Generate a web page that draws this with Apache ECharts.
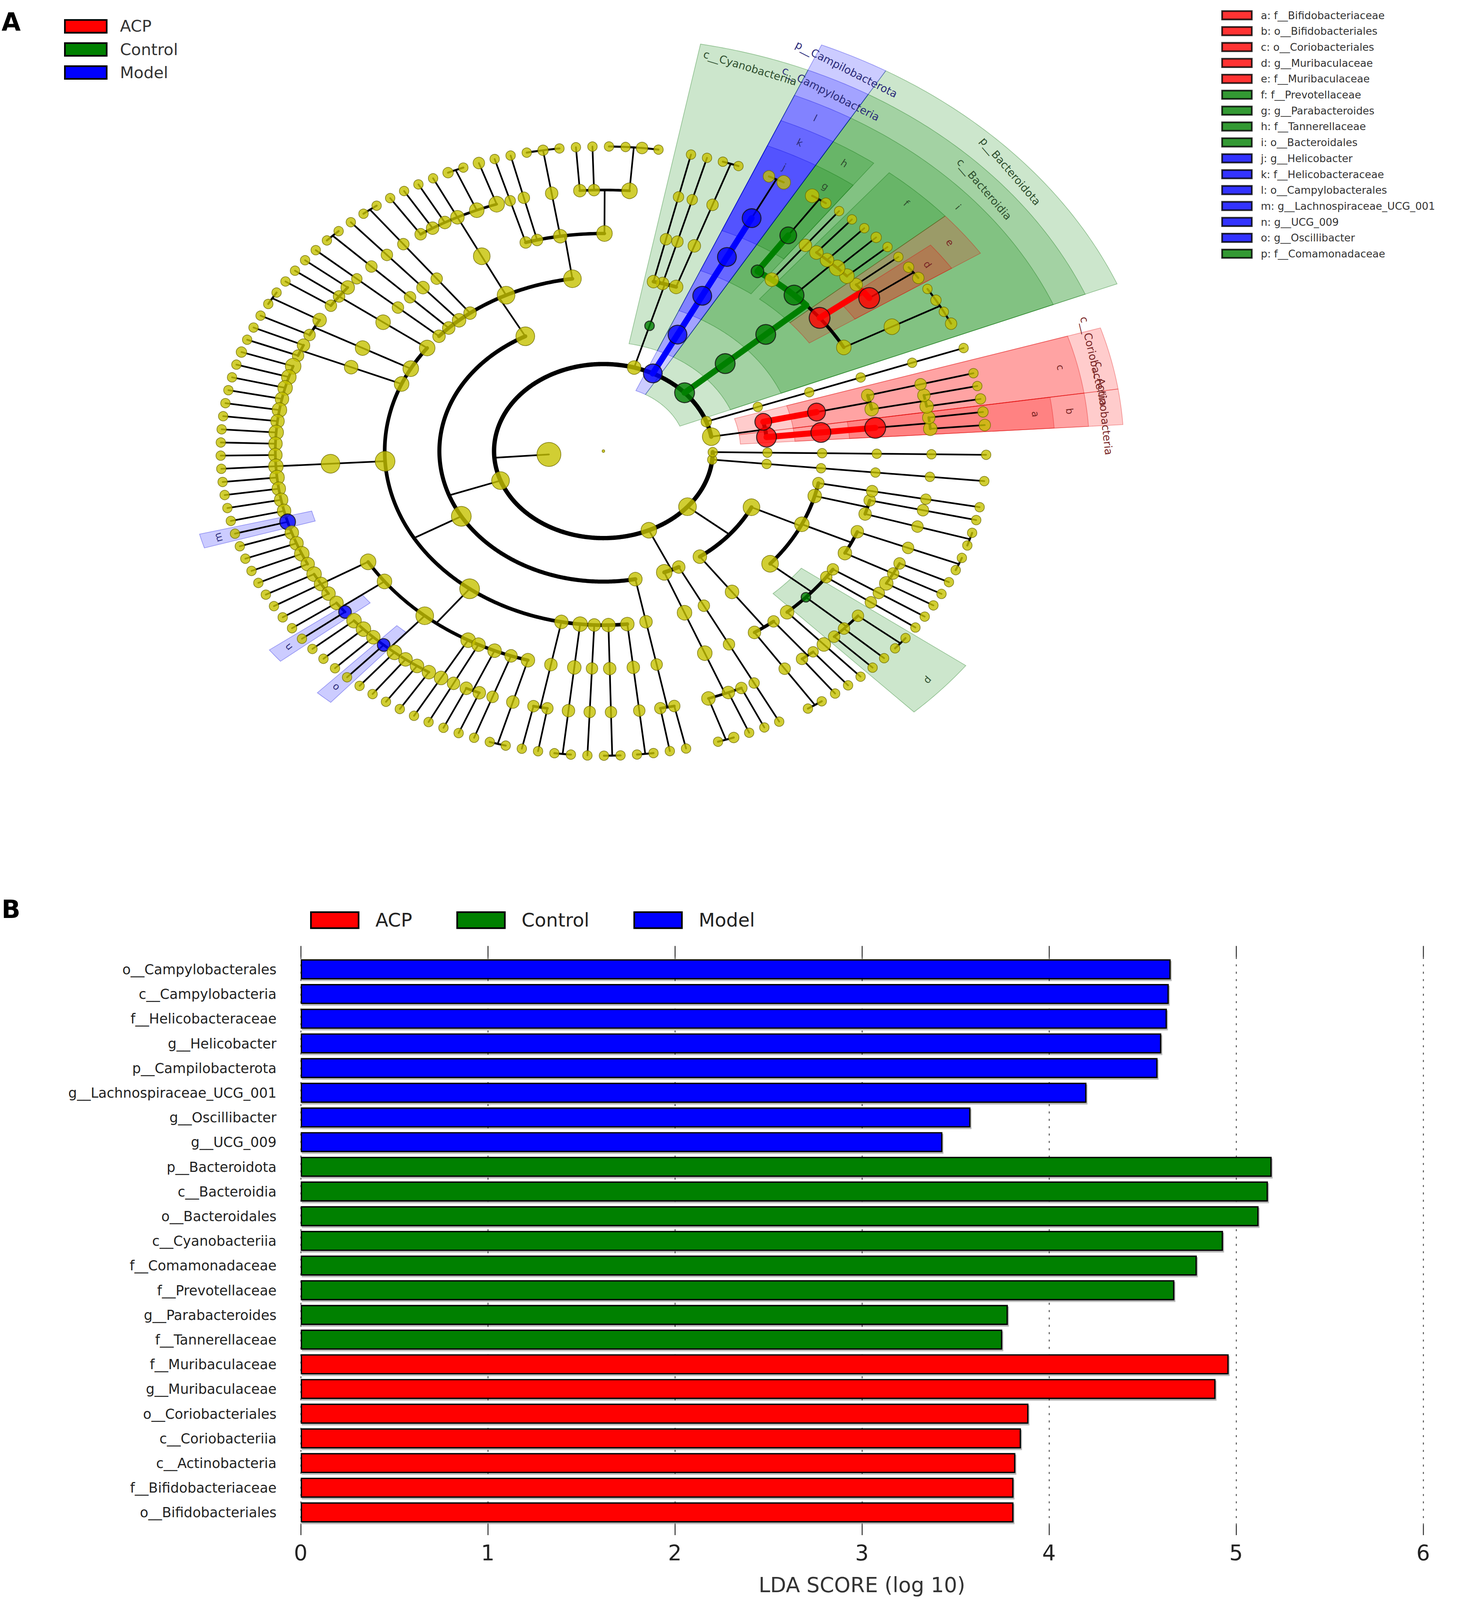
<!DOCTYPE html>
<html>
<head>
<meta charset="utf-8">
<script src="https://cdn.jsdelivr.net/npm/echarts@6/dist/echarts.min.js"></script>
<style>
html, body { margin: 0; padding: 0; background: #fff; overflow: hidden; }
#chart { width: 3792px; height: 4785px; }
</style>
</head>
<body>
<div id="chart"></div>
<script>
// ---- panel B: LDA scores, top to bottom ----
const barNames = [
  'o__Campylobacterales', 'c__Campylobacteria', 'f__Helicobacteraceae', 'g__Helicobacter',
  'p__Campilobacterota', 'g__Lachnospiraceae_UCG_001', 'g__Oscillibacter', 'g__UCG_009',
  'p__Bacteroidota', 'c__Bacteroidia', 'o__Bacteroidales', 'c__Cyanobacteriia',
  'f__Comamonadaceae', 'f__Prevotellaceae', 'g__Parabacteroides', 'f__Tannerellaceae',
  'f__Muribaculaceae', 'g__Muribaculaceae', 'o__Coriobacteriales', 'c__Coriobacteriia',
  'c__Actinobacteria', 'f__Bifidobacteriaceae', 'o__Bifidobacteriales'
];
const barScores = [
  4.65, 4.64, 4.63, 4.60, 4.58, 4.20, 3.58, 3.43,
  5.19, 5.17, 5.12, 4.93, 4.79, 4.67, 3.78, 3.75,
  4.96, 4.89, 3.89, 3.85, 3.82, 3.81, 3.81
];
const barGroups = [
  'Model', 'Model', 'Model', 'Model', 'Model', 'Model', 'Model', 'Model',
  'Control', 'Control', 'Control', 'Control', 'Control', 'Control', 'Control', 'Control',
  'ACP', 'ACP', 'ACP', 'ACP', 'ACP', 'ACP', 'ACP'
];
const groupNames = ['ACP', 'Control', 'Model'];

// ---- panel A: lettered clades ----
const cladeLetters = ['a', 'b', 'c', 'd', 'e', 'f', 'g', 'h', 'i', 'j', 'k', 'l', 'm', 'n', 'o', 'p'];
const cladeNames = [
  'f__Bifidobacteriaceae', 'o__Bifidobacteriales', 'o__Coriobacteriales', 'g__Muribaculaceae',
  'f__Muribaculaceae', 'f__Prevotellaceae', 'g__Parabacteroides', 'f__Tannerellaceae',
  'o__Bacteroidales', 'g__Helicobacter', 'f__Helicobacteraceae', 'o__Campylobacterales',
  'g__Lachnospiraceae_UCG_001', 'g__UCG_009', 'g__Oscillibacter', 'f__Comamonadaceae'
];

// taxonomy: [name, abundance, children]; a genus lists its species abundances
const tree = ['k__Bacteria', 9, [
  ['p__Actinobacteriota', 6, [
    ['c__Actinobacteria', 7, [['o__Bifidobacteriales', 7, [['f__Bifidobacteriaceae', 7.5, [
      ['g__Bifidobacterium', 4, [3]], ['g__Pseudoscardovia', 3.5, [2.5]]]]]]]],
    ['c__Coriobacteriia', 5.5, [['o__Coriobacteriales', 6, [
      ['f__Eggerthellaceae', 4, [['g__Enterorhabdus', 4, [2.5]], ['g__Adlercreutzia', 3.5, [2]]]],
      ['f__Atopobiaceae', 3.5, [['g__Coriobacteriaceae_UCG_002', 3, [2]]]]]]]]]],
  ['p__Patescibacteria', 2.5, [['c__Saccharimonadia', 2, [['o__Saccharimonadales', 2, [
    ['f__Saccharimonadaceae', 2, [['g__Candidatus_Saccharimonas', 2, [2]]]]]]]]]],
  ['p__Bacteroidota', 7, [['c__Bacteroidia', 7, [['o__Bacteroidales', 7, [
    ['f__Bacteroidaceae', 4.5, [['g__Bacteroides', 5, [3, 2, 2.5, 2]]]],
    ['f__Muribaculaceae', 7.5, [['g__Muribaculaceae', 7.5, [3, 2.5]], ['g__Muribaculum', 3.5, [2]]]],
    ['f__Prevotellaceae', 7, [['g__Prevotellaceae_UCG_001', 4.5, [2]], ['g__Alloprevotella', 5, [2.5]],
      ['g__Prevotella', 4, [2]], ['g__Prevotellaceae_NK3B31_group', 4, [2]]]],
    ['f__Rikenellaceae', 4, [['g__Alistipes', 3.5, [2]]]],
    ['f__Tannerellaceae', 3.5, [['g__Parabacteroides', 5.5, [2.5, 4]]]]]]]]]],
  ['p__Campilobacterota', 6.5, [['c__Campylobacteria', 6.5, [['o__Campylobacterales', 6.5, [
    ['f__Helicobacteraceae', 6.5, [['g__Helicobacter', 6.5, [4, 3]]]]]]]]]],
  ['p__Cyanobacteria', 4, [['c__Cyanobacteriia', 2, [
    ['o__Gastranaerophilales', 4, [['f__Gastranaerophilales', 3.5, [['g__Gastranaerophilales', 3, [2, 2]]]]]],
    ['o__Obscuribacterales', 3.5, [['f__Obscuribacteraceae', 3, [['g__Obscuribacteraceae', 2.5, [2]]]]]],
    ['o__Chloroplast', 3.5, [['f__Chloroplast', 3, [['g__Chloroplast', 2.5, [2]]]]]]]]]],
  ['p__Firmicutes', 6, [
    ['c__Bacilli', 6.5, [
      ['o__Lactobacillales', 6, [
        ['f__Lactobacillaceae', 5, [['g__Lactobacillus', 5, [2, 3, 2, 2]], ['g__Ligilactobacillus', 3, [2]],
          ['g__Limosilactobacillus', 3.5, [2]]]],
        ['f__Streptococcaceae', 4, [['g__Streptococcus', 3.5, [2, 2.5, 2]]]],
        ['f__Enterococcaceae', 3, [['g__Enterococcus', 3, [2]]]],
        ['f__Aerococcaceae', 3, [['g__Aerococcus', 2.5, [2]]]]]],
      ['o__Erysipelotrichales', 6, [['f__Erysipelotrichaceae', 5.5, [
        ['g__Dubosiella', 5, [3]], ['g__Faecalibaculum', 4.5, [2, 2.5]], ['g__Turicibacter', 4, [2]],
        ['g__Allobaculum', 3.5, [2]], ['g__Erysipelatoclostridium', 3.5, [2]], ['g__Holdemania', 3, [2]]]]]],
      ['o__Staphylococcales', 3.5, [['f__Staphylococcaceae', 3, [['g__Staphylococcus', 3, [2, 2]]]]]],
      ['o__RF39', 4, [['f__RF39', 3.5, [['g__RF39', 3, [2]]]]]],
      ['o__Bacillales', 3.5, [['f__Bacillaceae', 3, [['g__Bacillus', 3, [2, 2]]]]]],
      ['o__Acholeplasmatales', 3.5, [['f__Acholeplasmataceae', 3, [['g__Anaeroplasma', 2.5, [2]]]]]]]],
    ['c__Clostridia', 7, [
      ['o__Peptostreptococcales-Tissierellales', 5, [['f__Peptostreptococcaceae', 4.5, [
        ['g__Romboutsia', 4, [2]], ['g__Intestinibacter', 3, [2]], ['g__Terrisporobacter', 3, [2]]]]]],
      ['o__Clostridiales', 5, [['f__Clostridiaceae', 4.5, [
        ['g__Clostridium_sensu_stricto_1', 4, [2, 2]], ['g__Candidatus_Arthromitus', 3, [2]]]]]],
      ['o__Christensenellales', 4.5, [['f__Christensenellaceae', 4, [
        ['g__Christensenellaceae_R-7_group', 3.5, [2]], ['g__Christensenella', 3, [2]]]]]],
      ['o__Lachnospirales', 7, [['f__Lachnospiraceae', 6.5, [
        ['g__Lachnospiraceae_NK4A136_group', 5, [2.5]], ['g__Roseburia', 4.5, [2]], ['g__Blautia', 4.5, [2]],
        ['g__Dorea', 4, [2]], ['g__Lachnoclostridium', 4.5, [2]], ['g__Tyzzerella', 4, [2]],
        ['g__Acetatifactor', 4.5, [2]], ['g__Marvinbryantia', 4, [2]], ['g__Coprococcus', 4, [2]],
        ['g__Eubacterium_xylanophilum_group', 4.5, [2]], ['g__Lachnospiraceae_UCG_006', 4.5, [2]],
        ['g__Anaerostipes', 4, [2]], ['g__Fusicatenibacter', 4, [2]], ['g__Lachnospira', 4, [2]],
        ['g__Lachnospiraceae_UCG_001', 5, [2]], ['g__GCA-900066575', 4, [2]],
        ['g__Lachnospiraceae_FCS020_group', 4, [2]], ['g__ASF356', 4.5, [2]],
        ['g__Eubacterium_ventriosum_group', 4, [2]]]]]],
      ['o__Oscillospirales', 7, [
        ['f__Ruminococcaceae', 5, [['g__Ruminococcus', 4.5, [2]], ['g__Incertae_Sedis', 4, [2]], ['g__Anaerotruncus', 4, [2]]]],
        ['f__Butyricicoccaceae', 4.5, [['g__Butyricicoccus', 4, [2]], ['g__UCG_009', 3.5, [2]]]],
        ['f__Oscillospiraceae', 6, [['g__NK4A214_group', 4.5, [2]], ['g__Colidextribacter', 4.5, [2]],
          ['g__Intestinimonas', 4, [2]], ['g__Oscillibacter', 3.5, [2]], ['g__UCG_005', 4.5, [2]],
          ['g__Flavonifractor', 4, [2]], ['g__Oscillospira', 4, [2]], ['g__UCG_003', 4, [2]]]],
        ['f__[Eubacterium]_coprostanoligenes_group', 4.5, [['g__[Eubacterium]_coprostanoligenes_group', 4, [2]]]],
        ['f__UCG_010', 4, [['g__UCG_010', 3.5, [2]]]],
        ['f__Acutalibacteraceae', 4, [['g__Acutalibacter', 3.5, [2]], ['g__Ruminococcaceae_UCG_013', 3.5, [2]]]],
        ['f__Anaerofustaceae', 3.5, [['g__Anaerofustis', 3, [2]]]],
        ['f__Hungateiclostridiaceae', 4, [['g__Ruminiclostridium', 3.5, [2, 2]]]]]],
      ['o__Peptococcales', 4, [['f__Peptococcaceae', 3.5, [['g__Peptococcus', 3, [2]], ['g__Peptococcaceae_uncultured', 3, [2]]]]]],
      ['o__Clostridia_UCG-014', 4.5, [['f__Clostridia_UCG-014', 4, [['g__Clostridia_UCG-014', 3.5, [2, 2]]]]]],
      ['o__Monoglobales', 3.5, [['f__Monoglobaceae', 3, [['g__Monoglobus', 3, [2]]]]]],
      ['o__Clostridia_vadinBB60_group', 4, [['f__Clostridia_vadinBB60_group', 3.5, [['g__Clostridia_vadinBB60_group', 3, [2, 2]]]]]],
      ['o__Eubacteriales', 4, [['f__Eubacteriaceae', 3.5, [['g__Eubacterium', 3, [2, 2]]]]]]]],
    ['c__Negativicutes', 4, [['o__Veillonellales-Selenomonadales', 3.5, [['f__Veillonellaceae', 3, [
      ['g__Veillonella', 3, [2]], ['g__Megamonas', 3, [2]]]]]]]]]],
  ['p__Desulfobacterota', 5, [
    ['c__Desulfovibrionia', 5, [['o__Desulfovibrionales', 4.5, [['f__Desulfovibrionaceae', 4.5, [
      ['g__Desulfovibrio', 4, [2, 2.5]], ['g__Bilophila', 3.5, [2]], ['g__Mailhella', 3, [2]]]]]]]],
    ['c__Desulfuromonadia', 3.5, [['o__Geobacterales', 3, [['f__Geobacteraceae', 3, [['g__Geobacter', 2.5, [2]]]]]]]]]],
  ['p__Proteobacteria', 6, [
    ['c__Alphaproteobacteria', 4, [['o__Rhodospirillales', 4, [
      ['f__Rhodospirillales_uncultured', 3.5, [['g__Rhodospirillales_uncultured', 3, [2, 2]]]],
      ['f__Acetobacteraceae', 3, [['g__Acetobacter', 3, [2]], ['g__Gluconobacter', 2.5, [2]]]]]]]],
    ['c__Gammaproteobacteria', 5.5, [
      ['o__Burkholderiales', 5.5, [
        ['f__Sutterellaceae', 4, [['g__Parasutterella', 4, [2]]]],
        ['f__Comamonadaceae', 2, [['g__Comamonas', 3, [2]], ['g__Delftia', 3, [2]], ['g__Acidovorax', 3, [2, 2]]]],
        ['f__Oxalobacteraceae', 3, [['g__Massilia', 3, [2]]]],
        ['f__Burkholderiaceae', 3, [['g__Ralstonia', 3, [2]]]]]],
      ['o__Enterobacterales', 4.5, [
        ['f__Enterobacteriaceae', 4, [['g__Escherichia-Shigella', 4, [2]], ['g__Klebsiella', 3, [2]], ['g__Enterobacter', 3, [2]]]],
        ['f__Pasteurellaceae', 3.5, [['g__Rodentibacter', 3, [2, 2]]]]]],
      ['o__Pseudomonadales', 4, [
        ['f__Moraxellaceae', 3.5, [['g__Acinetobacter', 3, [2, 2]]]],
        ['f__Pseudomonadaceae', 3, [['g__Pseudomonas', 3, [2]]]]]],
      ['o__Xanthomonadales', 3, [['f__Xanthomonadaceae', 3, [['g__Stenotrophomonas', 2.5, [2]]]]]]]]]],
  ['p__Deferribacterota', 2, [['c__Deferribacteres', 2, [['o__Deferribacterales', 2, [
    ['f__Deferribacteraceae', 2, [['g__Mucispirillum', 2, [2]]]]]]]]]],
  ['p__Verrucomicrobiota', 2, [['c__Verrucomicrobiae', 2, [['o__Verrucomicrobiales', 2, [
    ['f__Akkermansiaceae', 2, [['g__Akkermansia', 2, [2]]]]]]]]]]
]];

// ---- page scale: layout is written for a 3792 x 4785 page ----
const VW = window.innerWidth || 3792, VH = window.innerHeight || 4785;
const SX = VW / 3792, SY = VH / 4785, SF = Math.min(SX, SY);
const px = v => v * SX, py = v => v * SY, pf = v => v * SF;
const el = document.getElementById('chart');
el.style.width = VW + 'px';
el.style.height = VH + 'px';

// ---- layout constants ----
const FONT = '"DejaVu Sans", "Liberation Sans", sans-serif';
const CX = 1545, CY = 1349, RX = 980, RY = 911;
const START_DEG = 4.9, END_DEG = 359.3;
const GROUP_COLOR = { ACP: '#ff0000', Control: '#008000', Model: '#0000ff' };
const GROUP_CODE = { ACP: 1, Control: 2, Model: 3 };
const LINE_COLOR = ['#000000', '#ff0000', '#008000', '#0000ff'];
const FILL_COLOR = ['', 'rgba(255,0,0,0.2)', 'rgba(0,128,0,0.2)', 'rgba(0,0,255,0.2)'];
const EDGE_COLOR = ['', 'rgba(220,0,0,0.35)', 'rgba(0,110,0,0.35)', 'rgba(0,0,220,0.35)'];
const TEXT_COLOR = ['#333', '#7a2626', '#2f4f2f', '#2b2b7a'];
const NODE_FILL = ['#c6c200', '#ff0000', '#008000', '#0000ff'];
const ARC_WIDTH = { 2: 13, 3: 12, 4: 11, 5: 10, 6: 8, 7: 6 };

const groupOf = {};
barNames.forEach((n, i) => { groupOf[n] = barGroups[i]; });
const letterOf = {};
cladeNames.forEach((n, i) => { letterOf[n] = cladeLetters[i]; });

// ---- tree layout (leaf slots, one empty slot between phyla) ----
function build(item, level) {
  if (typeof item === 'number') return { name: '', level: level, ab: item, children: [] };
  return { name: item[0], level: level, ab: item[1], children: (item[2] || []).map(c => build(c, level + 1)) };
}
const root = { name: 'root', level: 0, ab: 0, children: [build(tree, 1)] };

let slot = 0;
const leafSlots = [];
function assignSlots(n) {
  if (n.level === 2 && slot > 0) slot++;
  if (!n.children.length) { n.first = n.last = slot; leafSlots.push(slot); slot++; return; }
  n.children.forEach(assignSlots);
  n.first = n.children[0].first;
  n.last = n.children[n.children.length - 1].last;
}
assignSlots(root);
const STEP = (END_DEG - START_DEG) / (slot - 1);
const slotDeg = s => START_DEG + s * STEP;

const allNodes = [];
function place(n) {
  n.r = n.level / 7;
  if (!n.children.length) n.th = slotDeg(n.first);
  else {
    n.children.forEach(place);
    n.th = (n.children[0].th + n.children[n.children.length - 1].th) / 2;
  }
  n.code = GROUP_CODE[groupOf[n.name]] || 0;
  allNodes.push(n);
}
place(root);
allNodes.sort((a, b) => a.level - b.level);

const xy = (r, deg) => [r * Math.cos(deg * Math.PI / 180), r * Math.sin(deg * Math.PI / 180)];

// branch segments: [type(0 radial,1 arc), a, b, c, width, colorCode]
const blackSegs = [], colorSegs = [];
allNodes.forEach(p => {
  if (p.level < 1 || !p.children.length) return;
  const kids = p.children, rc = (p.level + 1) / 7;
  const hot = p.code && kids.some(k => k.code === p.code);
  if (!hot) blackSegs.push([0, p.r, rc, p.th, 5, 0]);
  if (kids.length > 1) blackSegs.push([1, rc, kids[0].th, kids[kids.length - 1].th, ARC_WIDTH[p.level + 1], 0]);
  if (hot) {
    colorSegs.push([0, p.r, rc, p.th, 18, p.code]);
    kids.forEach(k => { if (k.code === p.code && k.th !== p.th) colorSegs.push([1, rc, p.th, k.th, 18, p.code]); });
  }
});
const segData = blackSegs.concat(colorSegs);

// shaded clades: span halfway to the neighbouring leaves
function edgeSlots(n) {
  const i0 = leafSlots.indexOf(n.first), i1 = leafSlots.indexOf(n.last);
  const prev = i0 > 0 ? leafSlots[i0 - 1] : n.first - 1;
  const next = i1 < leafSlots.length - 1 ? leafSlots[i1 + 1] : n.last + 1;
  return [(n.first + prev) / 2, (n.last + next) / 2];
}
const hotNodes = allNodes.filter(n => n.code);
const sectorData = hotNodes.map(n => {
  const e = edgeSlots(n);
  return [n.r - 0.07, 1 + 0.09 * (7 - n.level), slotDeg(e[0]), slotDeg(e[1]), n.code];
});
const labelText = hotNodes.map(n => n.level <= 3 ? n.name : letterOf[n.name]);
const labelData = hotNodes.map((n, i) => [
  sectorData[i][1] - 0.045, (sectorData[i][2] + sectorData[i][3]) / 2, n.code, n.level
]);

const nodeData = allNodes.map(n => ({
  value: xy(n.r, n.th).concat([n.ab]),
  itemStyle: {
    color: n.level === 0 ? NODE_FILL[0] : NODE_FILL[n.code],
    borderColor: n.code ? '#111' : '#6f6b00',
    borderWidth: pf(n.code ? 3 : 2)
  }
}));

function toPx(api, r, deg) { return api.coord(xy(r, deg)); }
function arcPts(api, r, a, b) {
  const pts = [], n = Math.max(2, Math.ceil(Math.abs(b - a) / 0.5));
  for (let i = 0; i <= n; i++) pts.push(toPx(api, r, a + (b - a) * i / n));
  return pts;
}

// ---- panel B bar series ----
const barSeries = groupNames.map(g => ({
  name: g,
  type: 'bar',
  xAxisIndex: 1,
  yAxisIndex: 1,
  barWidth: py(60),
  barGap: '-100%',
  data: barScores.map((v, i) => barGroups[i] === g ? v : '-'),
  itemStyle: {
    color: GROUP_COLOR[g], borderColor: '#000', borderWidth: pf(4),
    shadowColor: 'rgba(0,0,0,0.28)', shadowOffsetX: pf(3), shadowOffsetY: pf(5)
  },
  z: 3
}));

const legendSeries = cladeLetters.map((l, i) => ({
  name: l + ': ' + cladeNames[i],
  type: 'scatter',
  xAxisIndex: 0, yAxisIndex: 0,
  data: [],
  itemStyle: { color: GROUP_COLOR[groupOf[cladeNames[i]]] }
}));

const chart = echarts.init(el, null, { renderer: 'svg' });
chart.setOption({
  backgroundColor: '#fff',
  animation: false,
  textStyle: { fontFamily: FONT },
  grid: [
    { left: px(CX - 1.55 * RX), top: py(CY - 1.45 * RY), width: px(3.1 * RX), height: py(2.85 * RY) },
    { left: px(770), top: py(2862), width: px(2874), height: py(1698) }
  ],
  xAxis: [
    { gridIndex: 0, type: 'value', min: -1.55, max: 1.55, show: false },
    {
      gridIndex: 1, type: 'value', min: 0, max: 6, interval: 1,
      axisLine: { show: false },
      axisTick: { show: true, length: py(31), lineStyle: { color: '#333', width: pf(3) } },
      axisLabel: { fontSize: pf(64), color: '#222', margin: py(52), fontFamily: FONT },
      splitLine: { show: true, lineStyle: { color: '#555', width: pf(3), type: [pf(6), pf(16)] } },
      name: 'LDA SCORE (log 10)', nameLocation: 'middle', nameGap: py(150),
      nameTextStyle: { fontSize: pf(62), color: '#333', fontFamily: FONT }
    },
    {
      gridIndex: 1, type: 'value', min: 0, max: 6, interval: 1, position: 'top',
      axisLine: { show: false },
      axisTick: { show: true, length: py(33), lineStyle: { color: '#333', width: pf(3) } },
      axisLabel: { show: false }, splitLine: { show: false }
    }
  ],
  yAxis: [
    { gridIndex: 0, type: 'value', min: -1.4, max: 1.45, show: false },
    {
      gridIndex: 1, type: 'category', data: barNames, inverse: true,
      axisLine: { show: false }, axisTick: { show: false },
      axisLabel: { fontSize: pf(41), color: '#222', margin: px(62), fontFamily: FONT }
    }
  ],
  legend: [
    {
      data: groupNames, orient: 'vertical', left: px(159), top: py(49),
      itemWidth: px(107), itemHeight: py(38), itemGap: py(21), icon: 'rect', selectedMode: false,
      itemStyle: { borderColor: '#000', borderWidth: pf(5) },
      textStyle: { fontSize: pf(48), lineHeight: py(48), color: '#333', fontFamily: FONT, padding: [0, 0, 0, px(29)] }
    },
    {
      data: legendSeries.map(s => s.name), orient: 'vertical', left: px(3122), top: py(24),
      itemWidth: px(76), itemHeight: py(25), itemGap: py(16), icon: 'rect', selectedMode: false,
      itemStyle: { borderColor: '#000', borderWidth: pf(5) },
      textStyle: { fontSize: pf(31), lineHeight: py(31), color: '#333', fontFamily: FONT, padding: [0, 0, 0, px(18)] }
    },
    {
      data: groupNames, orient: 'horizontal', left: px(789), top: py(2718),
      itemWidth: px(122), itemHeight: py(48), itemGap: px(113), icon: 'rect', selectedMode: false,
      itemStyle: { borderColor: '#000', borderWidth: pf(5) },
      textStyle: { fontSize: pf(56), lineHeight: py(56), color: '#222', fontFamily: FONT, padding: [0, 0, 0, px(38)] }
    }
  ],
  graphic: [
    { type: 'text', x: px(4), y: py(67), style: { text: 'A', fill: '#000', font: 'bold ' + pf(74) + 'px "DejaVu Sans"', verticalAlign: 'middle' } },
    { type: 'text', x: px(4), y: py(2720), style: { text: 'B', fill: '#000', font: 'bold ' + pf(74) + 'px "DejaVu Sans"', verticalAlign: 'middle' } }
  ],
  series: [
    {
      name: 'clades', type: 'custom', xAxisIndex: 0, yAxisIndex: 0, z: 1, silent: true,
      data: sectorData,
      renderItem: function (params, api) {
        const r0 = api.value(0), r1 = api.value(1), a = api.value(2), b = api.value(3), c = api.value(4);
        const pts = arcPts(api, r1, a, b).concat(arcPts(api, r0, b, a));
        return { type: 'polygon', shape: { points: pts }, style: { fill: FILL_COLOR[c], stroke: EDGE_COLOR[c], lineWidth: pf(2) } };
      }
    },
    {
      name: 'branches', type: 'custom', xAxisIndex: 0, yAxisIndex: 0, z: 2, silent: true,
      data: segData,
      renderItem: function (params, api) {
        const t = api.value(0), a = api.value(1), b = api.value(2), c = api.value(3);
        const w = api.value(4), code = api.value(5);
        const pts = t === 0 ? [toPx(api, a, c), toPx(api, b, c)] : arcPts(api, a, b, c);
        return { type: 'polyline', shape: { points: pts }, style: { stroke: LINE_COLOR[code], lineWidth: pf(w), fill: null, lineCap: 'round', lineJoin: 'round' } };
      }
    },
    {
      name: 'taxa', type: 'scatter', xAxisIndex: 0, yAxisIndex: 0, z: 4, silent: true,
      symbol: 'circle',
      symbolSize: v => pf(v[2] > 0 ? 16 + v[2] * 6.2 : 8),
      data: nodeData
    },
    {
      name: 'clade labels', type: 'custom', xAxisIndex: 0, yAxisIndex: 0, z: 5, silent: true,
      data: labelData,
      renderItem: function (params, api) {
        const r = api.value(0), th = api.value(1), code = api.value(2), lvl = api.value(3);
        const p = toPx(api, r, th);
        return {
          type: 'text', x: p[0], y: p[1], rotation: (th - 90) * Math.PI / 180,
          style: {
            text: labelText[params.dataIndex], fill: TEXT_COLOR[code],
            fontSize: pf(lvl <= 3 ? 32 : 29), fontFamily: FONT, align: 'center', verticalAlign: 'middle'
          }
        };
      }
    }
  ].concat(barSeries, legendSeries)
});
</script>
</body>
</html>
